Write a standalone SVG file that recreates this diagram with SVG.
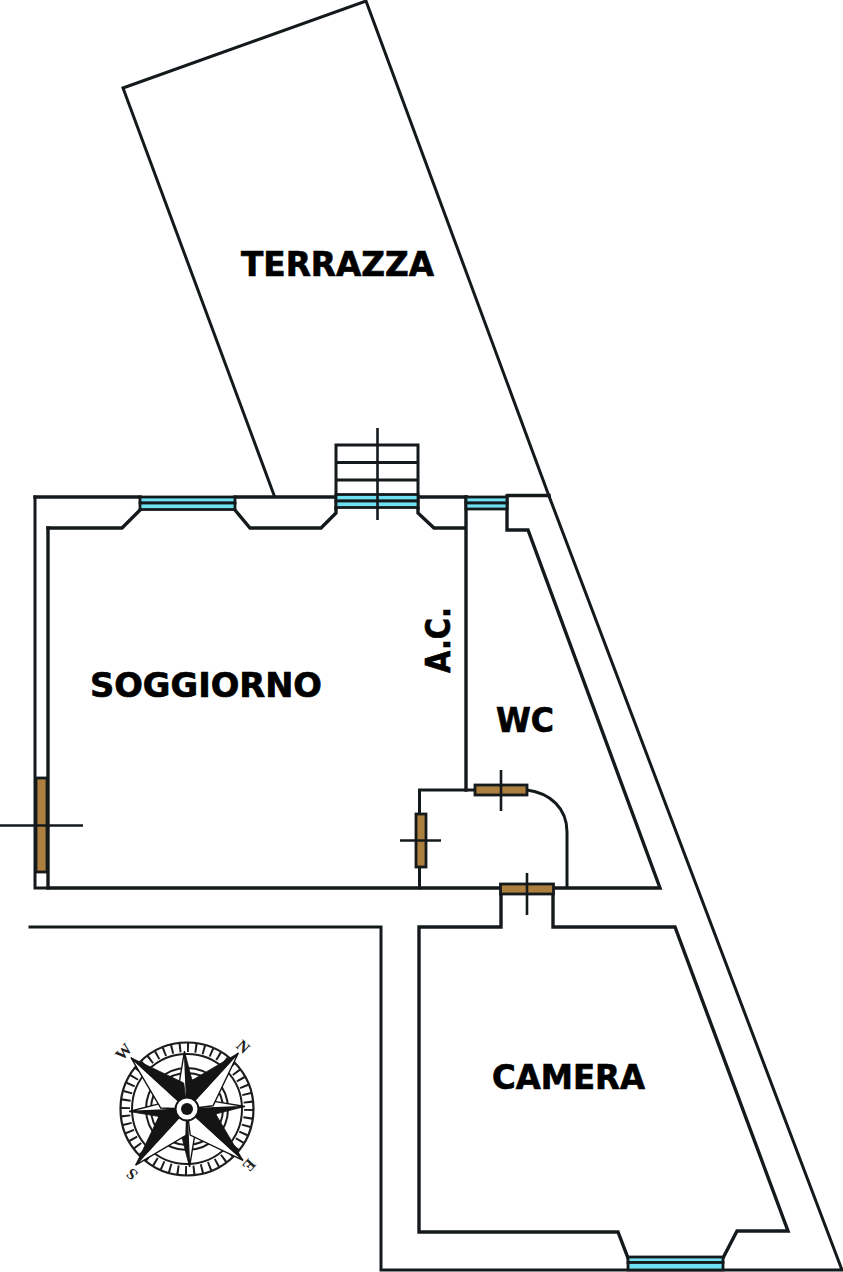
<svg xmlns="http://www.w3.org/2000/svg" width="843" height="1272" viewBox="0 0 843 1272">
<style>
.w{fill:none;stroke:#141a1c;stroke-width:3.400;stroke-linejoin:miter;stroke-linecap:square}
.t{stroke-width:3}
.c{stroke-width:2.600;stroke-linecap:butt}
.g{fill:#6fe0f2;stroke:#141a1c;stroke-width:2.800}
.d{fill:#ad7f3e;stroke:#141a1c;stroke-width:2.800}
.l{font-family:"DejaVu Sans",Verdana,sans-serif;font-weight:700;fill:#000;stroke:#000;stroke-width:.7}
.k{fill:#141414;stroke:#141414;stroke-width:.8}
.e{fill:#fff;stroke:#141414;stroke-width:1.400}
.r{fill:none;stroke:#1c1c1c}
.n{font-family:"Liberation Serif",serif;font-weight:700;font-size:16px;fill:#222;text-anchor:middle}
</style>
<defs>
<path id="lh" d="M0 0L17 -20L0 -76Z"/>
<path id="sh" d="M0 0L8 -20L0 -58Z"/>
</defs>
<g id="connectors">
<path class="w t" d="M274 495L123 88L366 1L549 496"/>
<path class="w" d="M35 497H140M235 497H336M418 497H466M508 495.500H549"/>
<path class="w t" d="M35 497V888H48"/>
<path class="w" d="M48 528V888H500M554 888H660L528 530H507V496"/>
<path class="w" d="M140 510L122 528H48"/>
<path class="w" d="M235 510L250 528H321L336 513V508M418 508V513L434 528H466M466 497V790"/>
<path class="w t" d="M549 496L842 1270H381V927H30"/>
<path class="w" d="M419 1232V927H501V894M553 894V927H675L788 1231H737L723 1258M419 1232H618L628 1258"/>
<path class="w t" d="M474 790H419.500V814M419.500 867V888M527 790C550 793 567 808 567 832V887"/>
<path class="w t" d="M336 508V445H418V508M336 462.500H418M336 480H418"/>
</g>
<g id="window-1"><rect class="g" x="140" y="497" width="95" height="6"/><rect class="g" x="140" y="503" width="95" height="6.500"/></g>
<g id="window-2"><rect class="g" x="336" y="494.500" width="82" height="6.500"/><rect class="g" x="336" y="501" width="82" height="6.500"/><path class="w c" d="M377.500 428V520"/></g>
<g id="window-3"><rect class="g" x="466" y="497" width="41" height="6"/><rect class="g" x="466" y="503" width="41" height="6"/></g>
<g id="window-4"><rect class="g" x="628" y="1257" width="95" height="5.500"/><rect class="g" x="628" y="1262.500" width="95" height="7.500"/></g>
<g id="door-left"><rect class="d" x="36" y="778" width="11" height="94"/><path class="w c" d="M0 825.500H83"/></g>
<g id="door-wc"><rect class="d" x="475" y="785" width="52" height="10"/><path class="w c" d="M501 770V811"/></g>
<g id="door-ac"><rect class="d" x="416" y="814" width="10" height="53"/><path class="w c" d="M400 840.500H441"/></g>
<g id="door-camera"><rect class="d" x="500.500" y="884" width="53" height="10"/><path class="w c" d="M527 873V915"/></g>
<g id="label-terrazza"><text class="l" x="241" y="276" font-size="34" textLength="193" lengthAdjust="spacingAndGlyphs">TERRAZZA</text></g>
<g id="label-soggiorno"><text class="l" x="90" y="697" font-size="34" textLength="232" lengthAdjust="spacingAndGlyphs">SOGGIORNO</text></g>
<g id="label-wc"><text class="l" x="496" y="732" font-size="34" textLength="58" lengthAdjust="spacingAndGlyphs">WC</text></g>
<g id="label-camera"><text class="l" x="492" y="1089" font-size="34" textLength="153" lengthAdjust="spacingAndGlyphs">CAMERA</text></g>
<g id="label-ac"><text class="l" transform="translate(450 673) rotate(-90)" font-size="34" textLength="66" lengthAdjust="spacingAndGlyphs">A.C.</text></g>
<g id="compass" transform="translate(187 1109)">
<circle class="r" r="66.500" stroke-width="2.200"/>
<circle class="r" r="55" stroke-width="2"/>
<circle class="r" r="61.500" stroke-width="9" stroke-dasharray="2 6" pathLength="384"/>
<circle class="r" r="41" stroke-width="2"/>
<circle class="r" r="36" stroke-width="2"/>
<circle class="r" r="29" stroke-width="2"/>
<g transform="rotate(-2.500)">
<g id="rose-short">
<use href="#sh" class="k"/><use href="#sh" class="e" transform="scale(-1 1)"/>
<use href="#sh" class="k" transform="rotate(90)"/><use href="#sh" class="e" transform="rotate(90) scale(-1 1)"/>
<use href="#sh" class="k" transform="rotate(180)"/><use href="#sh" class="e" transform="rotate(180) scale(-1 1)"/>
<use href="#sh" class="k" transform="rotate(270) scale(-1 1)"/><use href="#sh" class="e" transform="rotate(270)"/>
</g>
<g id="rose-long">
<use href="#lh" class="e" transform="rotate(45)"/><use href="#lh" class="k" transform="rotate(45) scale(-1 1)"/>
<use href="#lh" class="e" transform="rotate(135)"/><use href="#lh" class="k" transform="rotate(135) scale(-1 1)"/>
<use href="#lh" class="e" transform="rotate(225) scale(-1 1)"/><use href="#lh" class="k" transform="rotate(225)"/>
<use href="#lh" class="e" transform="rotate(315) scale(-1 1)"/><use href="#lh" class="k" transform="rotate(315)"/>
</g>
</g>
<circle r="11.500" fill="#fff" stroke="#141414" stroke-width="2"/>
<circle r="6" fill="#141414"/>
<text class="n" dy="5" transform="translate(-63 -57) rotate(-48)">W</text>
<text class="n" dy="5" transform="translate(56 -62) rotate(42)">N</text>
<text class="n" dy="5" transform="translate(62 56) rotate(132)">E</text>
<text class="n" dy="5" transform="translate(-55 65) rotate(222)">S</text>
</g>
</svg>
